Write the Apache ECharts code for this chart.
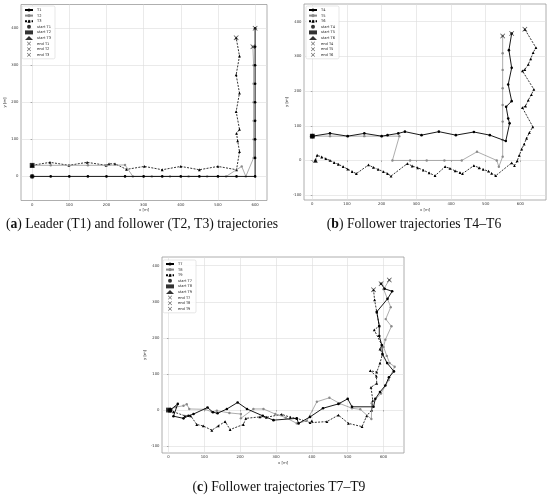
<!DOCTYPE html>
<html>
<head>
<meta charset="utf-8">
<script src="https://cdn.jsdelivr.net/npm/echarts@6/dist/echarts.min.js"></script>
<style>
  html, body { margin: 0; padding: 0; background: #fff; }
  #chart { width: 550px; height: 497px; }
</style>
</head>
<body>
<div id="chart"></div>
<script>
// trajectories, [x, y] in metres
var T1 = [[0,0],[50,0],[100,0],[150,0],[200,0],[250,0],[300,0],[350,0],[400,0],[450,0],[500,0],[550,0],[600,0],
  [600,50],[600,100],[600,150],[600,200],[600,250],[600,300],[600,350],[600,400]];
var T2 = [[0,30],[50,30],[100,30],[150,30],[200,30],[250,31],[271,0],[322,0],[371,0],[421,0],[471,0],[522,0],
  [564,27],[575,0],[596,50],[596,100],[596,150],[596,200],[596,250],[596,300],[594,350]];
var T3 = [[0,30],[48,38],[99,30],[148,38],[199,30],[207,34],[223,34],[254,19],[302,27],[350,18],[400,27],
  [450,18],[500,27],[550,18],[558,67],[553,96],[550,116],[558,127],[549,175],[558,225],[549,274],[558,325],[549,374]];

var T4 = [[0,70],[51,78],[102,70],[150,78],[200,70],[217,73],[248,78],[267,83],[315,73],[365,83],[414,73],
  [466,82],[512,73],[558,56],[569,107],[565,121],[559,155],[575,171],[565,219],[575,267],[567,318],[575,366]];
var T5 = [[0,70],[51,70],[102,70],[150,70],[200,70],[251,70],[231,0],[282,0],[330,0],[381,0],[431,0],[475,25],
  [532,0],[538,-18],[549,11],[549,59],[549,112],[549,160],[549,208],[549,261],[549,309],[549,359]];
var T6 = [[9,0],[14,15],[27,10],[39,5],[51,0],[63,-6],[75,-11],[89,-18],[102,-25],[115,-32],[127,-38],
  [162,-13],[176,-20],[190,-26],[205,-32],[217,-38],[227,-45],[274,-9],[288,-16],[304,-21],[320,-28],[337,-36],
  [354,-44],[383,-18],[397,-23],[412,-30],[426,-35],[433,-38],[466,-15],[481,-21],[493,-26],[508,-31],[517,-37],
  [529,-44],[575,-7],[583,-15],[591,-1],[597,15],[604,33],[611,47],[618,64],[626,80],[636,97],[606,152],[615,157],
  [623,174],[632,190],[639,205],[606,258],[613,262],[623,277],[630,293],[637,311],[645,325],[613,378]];

var T7 = [[5,0],[26,17],[14,-17],[42,-23],[56,-16],[70,-11],[109,7],[124,-6],[137,-9],[163,3],[193,21],[219,3],
  [263,-16],[293,-28],[358,-23],[363,-37],[395,-19],[431,5],[474,17],[500,31],[512,9],[572,9],[577,31],[590,50],
  [605,68],[615,91],[629,107],[610,130],[597,155],[595,180],[588,205],[588,233],[581,272],[611,308],[624,329],
  [603,336],[593,350]];
var T8 = [[0,0],[20,8],[42,12],[51,16],[58,3],[102,2],[121,-5],[135,-2],[170,-8],[202,-11],[202,-23],[237,3],
  [265,3],[298,-11],[327,-21],[358,-37],[386,-30],[414,23],[449,34],[478,18],[512,5],[535,2],[566,-25],[567,19],
  [593,46],[614,83],[631,120],[617,130],[609,150],[600,175],[605,195],[622,232],[606,252],[620,285],[600,335],[616,360]];
var T9 = [[5,0],[14,-5],[46,-16],[62,-16],[79,-40],[97,-44],[121,-56],[139,-44],[158,-32],[172,-54],[209,-40],
  [216,-23],[255,-19],[273,-20],[316,-12],[340,-20],[358,-23],[395,-35],[400,-30],[442,-32],[474,-14],[502,-37],
  [540,-46],[553,-16],[567,0],[570,26],[565,63],[581,74],[580,94],[563,109],[581,105],[590,130],[597,155],
  [590,169],[595,180],[574,222],[588,233],[581,272],[575,305],[572,333]];

var ticksX = [0, 100, 200, 300, 400, 500, 600];
var ticksYa = [0, 100, 200, 300, 400];
var ticksY = [-100, 0, 100, 200, 300, 400];

var panels = [
  { names: ['T1', 'T2', 'T3'], data: [T1, T2, T3], x: [-30, 632], y: [-65, 464], yt: ticksYa, yGap: 9,
    grid: { left: 21, top: 4.5, width: 246, height: 196 }, legend: { left: 22, top: 6 } },
  { names: ['T4', 'T5', 'T6'], data: [T4, T5, T6], x: [-24, 674], y: [-114, 451], yt: ticksY, yGap: 14,
    grid: { left: 304, top: 4, width: 242, height: 196 }, legend: { left: 306, top: 6 } },
  { names: ['T7', 'T8', 'T9'], data: [T7, T8, T9], x: [-18, 657], y: [-119, 424], yt: ticksY, yGap: 13,
    grid: { left: 162, top: 257, width: 242, height: 196 }, legend: { left: 163, top: 260 } }
];

var captions = [
  { text: '({b|a}) Leader (T1) and follower (T2, T3) trajectories', x: 142, y: 224 },
  { text: '({b|b}) Follower trajectories T4\u2013T6', x: 414, y: 224 },
  { text: '({b|c}) Follower trajectories T7\u2013T9', x: 279, y: 487 }
];

var crossPath = 'path://M0,1L1,0L5,4L9,0L10,1L6,5L10,9L9,10L5,6L1,10L0,9L4,5Z';
var lineKinds = [
  { color: '#000', width: 0.9, type: 'solid', symbol: 'circle', size: 2.6 },
  { color: '#8a8a8a', width: 0.7, type: 'solid', symbol: 'circle', size: 2.4 },
  { color: '#000', width: 0.8, type: [2, 1.3], symbol: 'triangle', size: 2.8 }
];
var startSymbols = ['circle', 'rect', 'triangle'];

var grids = [], xAxes = [], yAxes = [], legends = [], series = [];
panels.forEach(function (p, i) {
  grids.push(Object.assign({ show: true, borderColor: '#9a9a9a', borderWidth: 0.8, backgroundColor: '#fff' }, p.grid));
  var axisCommon = {
    gridIndex: i, type: 'value',
    axisLine: { show: false },
    nameLocation: 'middle',
    nameTextStyle: { fontSize: 3.8, color: '#333', fontFamily: 'DejaVu Sans' },
    splitLine: { show: true, lineStyle: { color: '#dcdcdc', width: 0.6 } }
  };
  xAxes.push(Object.assign({}, axisCommon, {
    min: p.x[0], max: p.x[1], name: 'x [m]', nameGap: 8,
    axisTick: { show: true, customValues: ticksX, length: 1.5, lineStyle: { color: '#666', width: 0.5 } },
    axisLabel: { customValues: ticksX, fontSize: 3.8, margin: 2.5, color: '#333', fontFamily: 'DejaVu Sans' }
  }));
  yAxes.push(Object.assign({}, axisCommon, {
    min: p.y[0], max: p.y[1], name: 'y [m]', nameGap: p.yGap,
    axisTick: { show: true, customValues: p.yt, length: 1.5, lineStyle: { color: '#666', width: 0.5 } },
    axisLabel: { customValues: p.yt, fontSize: 3.8, margin: 2.5, color: '#333', fontFamily: 'DejaVu Sans' }
  }));

  var legendNames = [];
  p.names.forEach(function (n, k) {
    var s = lineKinds[k];
    legendNames.push(n);
    series.push({
      name: n, type: 'line', xAxisIndex: i, yAxisIndex: i, data: p.data[k],
      symbol: s.symbol, symbolSize: s.size, showSymbol: true,
      lineStyle: { color: s.color, width: s.width, type: s.type },
      itemStyle: { color: s.color }, z: 3 - k, animation: false
    });
  });
  p.names.forEach(function (n, k) {
    legendNames.push('start ' + n);
    series.push({
      name: 'start ' + n, type: 'scatter', xAxisIndex: i, yAxisIndex: i, data: [p.data[k][0]],
      symbol: startSymbols[k], symbolSize: 4.8, itemStyle: { color: '#000' }, z: 6, animation: false
    });
  });
  p.names.forEach(function (n, k) {
    var d = p.data[k];
    legendNames.push('end ' + n);
    series.push({
      name: 'end ' + n, type: 'scatter', xAxisIndex: i, yAxisIndex: i, data: [d[d.length - 1]],
      symbol: crossPath, symbolSize: 5, itemStyle: { color: '#222' }, z: 6, animation: false
    });
  });

  legends.push({
    data: legendNames, orient: 'vertical', left: p.legend.left, top: p.legend.top,
    itemWidth: 8, itemHeight: 4, itemGap: 1.6, selectedMode: false,
    padding: [2, 4, 2, 2],
    backgroundColor: 'rgba(255,255,255,0.85)', borderColor: '#cfcfcf', borderWidth: 0.5, borderRadius: 1.5,
    textStyle: { fontSize: 3.6, color: '#222', fontFamily: 'DejaVu Sans', lineHeight: 4, padding: [0, 0, 0, -1] }
  });
});

var graphics = captions.map(function (c) {
  return {
    type: 'text', x: c.x, y: c.y,
    style: {
      text: c.text, align: 'center', verticalAlign: 'middle',
      font: '13.7px "Liberation Serif"', fill: '#111',
      rich: { b: { fontWeight: 'bold', fontSize: 13.7, fontFamily: 'Liberation Serif', fill: '#111' } }
    }
  };
});

var myChart = echarts.init(document.getElementById('chart'), null, { renderer: 'canvas' });
myChart.setOption({
  animation: false,
  backgroundColor: '#fff',
  grid: grids,
  xAxis: xAxes,
  yAxis: yAxes,
  legend: legends,
  graphic: graphics,
  series: series
});
window.addEventListener('resize', function () { myChart.resize(); });
</script>
</body>
</html>
